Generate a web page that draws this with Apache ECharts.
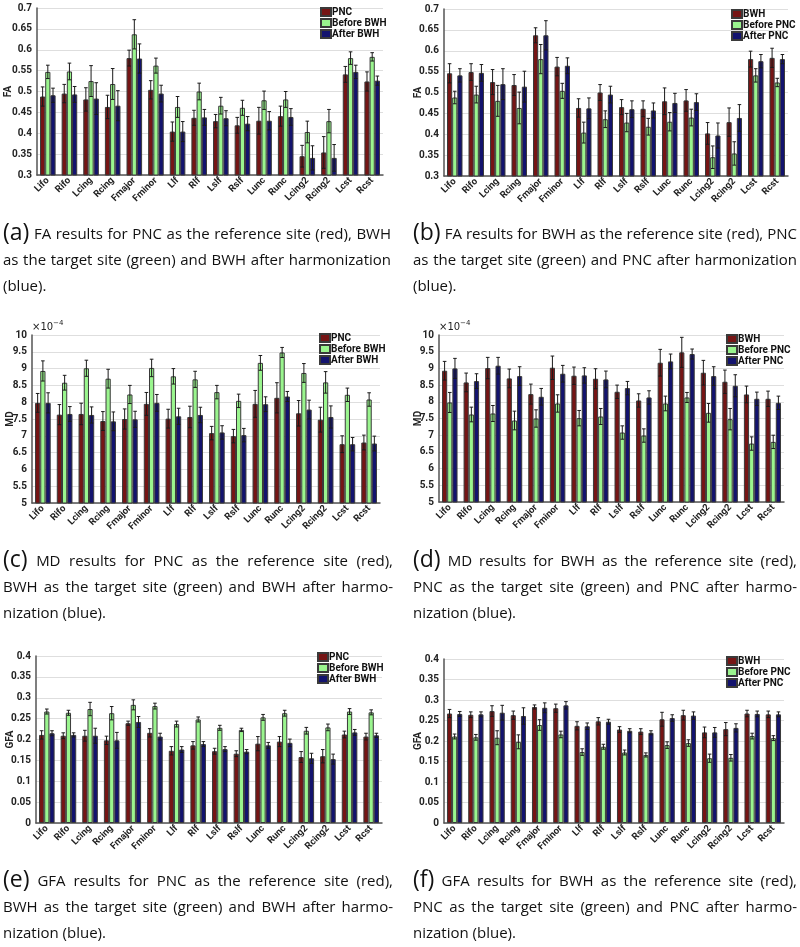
<!DOCTYPE html>
<html>
<head>
<meta charset="utf-8">
<script src="https://cdn.jsdelivr.net/npm/echarts@6/dist/echarts.min.js"></script>
<style>
  html, body { margin: 0; padding: 0; background: #fff; }
  #main { width: 800px; height: 947px; }
</style>
</head>
<body>
<div id="main"></div>
<script>
const tracts = ["Lifo", "Rifo", "Lcing", "Rcing", "Fmajor", "Fminor", "Llf", "Rlf",
	"Lslf", "Rslf", "Lunc", "Runc", "Lcing2", "Rcing2", "Lcst", "Rcst"];

// (a) FA, PNC reference
const faA_pnc = [0.488, 0.495, 0.481, 0.463, 0.580, 0.504, 0.404, 0.437, 0.429, 0.419, 0.430, 0.441, 0.345, 0.354, 0.541, 0.524];
const faA_pncErr = [0.023, 0.022, 0.028, 0.028, 0.019, 0.022, 0.023, 0.018, 0.016, 0.019, 0.032, 0.024, 0.026, 0.038, 0.019, 0.023];
const faA_before = [0.547, 0.548, 0.525, 0.518, 0.637, 0.562, 0.463, 0.500, 0.466, 0.461, 0.479, 0.481, 0.403, 0.429, 0.580, 0.583];
const faA_beforeErr = [0.016, 0.020, 0.037, 0.037, 0.035, 0.018, 0.025, 0.020, 0.020, 0.018, 0.022, 0.019, 0.026, 0.028, 0.015, 0.010];
const faA_after = [0.491, 0.493, 0.483, 0.466, 0.579, 0.495, 0.404, 0.438, 0.436, 0.423, 0.430, 0.439, 0.341, 0.341, 0.547, 0.526];
const faA_afterErr = [0.017, 0.019, 0.038, 0.036, 0.035, 0.020, 0.024, 0.019, 0.018, 0.017, 0.022, 0.020, 0.029, 0.032, 0.016, 0.011];

// (b) FA, BWH reference
const faB_bwh = [0.546, 0.549, 0.525, 0.518, 0.637, 0.562, 0.463, 0.500, 0.465, 0.461, 0.479, 0.481, 0.402, 0.429, 0.580, 0.583];
const faB_bwhErr = [0.023, 0.020, 0.030, 0.025, 0.018, 0.022, 0.022, 0.019, 0.018, 0.019, 0.032, 0.026, 0.026, 0.034, 0.019, 0.023];
const faB_before = [0.488, 0.495, 0.480, 0.463, 0.580, 0.504, 0.404, 0.436, 0.428, 0.418, 0.430, 0.440, 0.345, 0.354, 0.541, 0.524];
const faB_beforeErr = [0.015, 0.020, 0.037, 0.038, 0.035, 0.018, 0.025, 0.020, 0.022, 0.020, 0.022, 0.020, 0.027, 0.028, 0.016, 0.010];
const faB_after = [0.541, 0.547, 0.520, 0.514, 0.637, 0.564, 0.462, 0.495, 0.460, 0.457, 0.475, 0.477, 0.397, 0.439, 0.575, 0.580];
const faB_afterErr = [0.016, 0.020, 0.037, 0.037, 0.035, 0.019, 0.025, 0.020, 0.020, 0.018, 0.023, 0.020, 0.030, 0.032, 0.016, 0.011];

// (c) MD (x1e-4), PNC reference
const mdC_pnc = [7.98, 7.63, 7.65, 7.44, 7.50, 7.95, 7.51, 7.56, 7.08, 6.99, 7.95, 8.13, 7.67, 7.48, 6.75, 6.80];
const mdC_pncErr = [0.28, 0.30, 0.32, 0.28, 0.30, 0.34, 0.28, 0.32, 0.20, 0.20, 0.40, 0.45, 0.38, 0.37, 0.25, 0.22];
const mdC_before = [8.93, 8.58, 9.01, 8.70, 8.23, 9.02, 8.77, 8.68, 8.30, 8.04, 9.17, 9.48, 8.87, 8.59, 8.22, 8.08];
const mdC_beforeErr = [0.30, 0.22, 0.24, 0.28, 0.27, 0.26, 0.23, 0.24, 0.20, 0.20, 0.22, 0.15, 0.28, 0.32, 0.20, 0.20];
const mdC_after = [7.98, 7.65, 7.62, 7.43, 7.49, 7.98, 7.58, 7.62, 7.10, 7.02, 7.94, 8.17, 7.78, 7.56, 6.75, 6.77];
const mdC_afterErr = [0.30, 0.22, 0.24, 0.28, 0.24, 0.25, 0.24, 0.23, 0.20, 0.20, 0.22, 0.15, 0.28, 0.33, 0.20, 0.22];

// (d) MD (x1e-4), BWH reference
const mdD_bwh = [8.93, 8.58, 9.01, 8.70, 8.23, 9.02, 8.78, 8.69, 8.30, 8.04, 9.17, 9.48, 8.87, 8.60, 8.22, 8.09];
const mdD_bwhErr = [0.28, 0.28, 0.32, 0.28, 0.30, 0.35, 0.26, 0.30, 0.20, 0.20, 0.40, 0.45, 0.37, 0.35, 0.25, 0.23];
const mdD_before = [7.98, 7.62, 7.65, 7.44, 7.50, 7.95, 7.51, 7.56, 7.08, 6.99, 7.95, 8.13, 7.67, 7.48, 6.75, 6.80];
const mdD_beforeErr = [0.30, 0.22, 0.24, 0.28, 0.26, 0.26, 0.23, 0.24, 0.20, 0.20, 0.22, 0.15, 0.28, 0.32, 0.20, 0.20];
const mdD_after = [9.00, 8.62, 9.08, 8.77, 8.15, 8.84, 8.79, 8.67, 8.41, 8.13, 9.21, 9.43, 8.77, 8.48, 8.09, 7.97];
const mdD_afterErr = [0.30, 0.22, 0.25, 0.28, 0.25, 0.25, 0.23, 0.25, 0.20, 0.20, 0.22, 0.15, 0.28, 0.33, 0.20, 0.20];

// (e) GFA, PNC reference
const gfaE_pnc = [0.211, 0.209, 0.209, 0.198, 0.239, 0.216, 0.173, 0.186, 0.172, 0.166, 0.190, 0.195, 0.158, 0.160, 0.212, 0.207];
const gfaE_pncErr = [0.010, 0.007, 0.013, 0.010, 0.005, 0.010, 0.010, 0.009, 0.007, 0.007, 0.017, 0.012, 0.013, 0.016, 0.008, 0.008];
const gfaE_before = [0.267, 0.264, 0.273, 0.263, 0.283, 0.280, 0.237, 0.248, 0.228, 0.223, 0.253, 0.263, 0.221, 0.229, 0.267, 0.265];
const gfaE_beforeErr = [0.006, 0.006, 0.016, 0.016, 0.012, 0.007, 0.007, 0.006, 0.006, 0.004, 0.007, 0.007, 0.008, 0.008, 0.007, 0.006];
const gfaE_after = [0.215, 0.211, 0.209, 0.198, 0.242, 0.207, 0.176, 0.189, 0.177, 0.171, 0.186, 0.192, 0.155, 0.153, 0.217, 0.210];
const gfaE_afterErr = [0.006, 0.005, 0.018, 0.019, 0.013, 0.008, 0.007, 0.006, 0.006, 0.005, 0.007, 0.009, 0.012, 0.012, 0.007, 0.005];

// (f) GFA, BWH reference
const gfaF_bwh = [0.267, 0.264, 0.273, 0.263, 0.283, 0.280, 0.237, 0.248, 0.228, 0.223, 0.253, 0.263, 0.221, 0.229, 0.267, 0.265];
const gfaF_bwhErr = [0.010, 0.007, 0.013, 0.010, 0.005, 0.010, 0.010, 0.009, 0.007, 0.007, 0.017, 0.012, 0.013, 0.016, 0.008, 0.008];
const gfaF_before = [0.211, 0.209, 0.208, 0.198, 0.239, 0.216, 0.173, 0.186, 0.172, 0.166, 0.190, 0.195, 0.158, 0.159, 0.212, 0.207];
const gfaF_beforeErr = [0.006, 0.007, 0.017, 0.017, 0.013, 0.008, 0.008, 0.006, 0.006, 0.005, 0.008, 0.008, 0.010, 0.008, 0.007, 0.006];
const gfaF_after = [0.266, 0.265, 0.269, 0.261, 0.281, 0.287, 0.236, 0.247, 0.225, 0.220, 0.256, 0.262, 0.221, 0.232, 0.266, 0.265];
const gfaF_afterErr = [0.006, 0.006, 0.018, 0.020, 0.012, 0.009, 0.008, 0.006, 0.005, 0.005, 0.008, 0.009, 0.012, 0.010, 0.007, 0.006];

const colors = ["#761515", "#9af58e", "#13136e"];
const catGap = 0.28;

const panels = [
	{ grid: { left: 37, top: 8, width: 346, height: 167 }, min: 0.3, max: 0.7, step: 0.05, axisName: "FA", nameGap: 24,
		names: ["PNC", "Before BWH", "After BWH"], vals: [faA_pnc, faA_before, faA_after], errs: [faA_pncErr, faA_beforeErr, faA_afterErr],
		legend: { left: 320, top: 7 },
		caption: ["(a)|FA results for PNC as the reference site (red), BWH", "as the target site (green) and BWH after harmonization", "(blue)."], capX: 3, capW: 388, capY: 235 },
	{ grid: { left: 444, top: 9, width: 344, height: 167 }, min: 0.3, max: 0.7, step: 0.05, axisName: "FA", nameGap: 21,
		names: ["BWH", "Before PNC", "After PNC"], vals: [faB_bwh, faB_before, faB_after], errs: [faB_bwhErr, faB_beforeErr, faB_afterErr],
		legend: { left: 731, top: 9 },
		caption: ["(b)|FA results for BWH as the reference site (red), PNC", "as the target site (green) and PNC after harmonization", "(blue)."], capX: 413, capW: 384, capY: 235 },
	{ grid: { left: 32, top: 335, width: 348, height: 168 }, min: 5, max: 10, step: 0.5, axisName: "MD", nameGap: 17, exp: true,
		names: ["PNC", "Before BWH", "After BWH"], vals: [mdC_pnc, mdC_before, mdC_after], errs: [mdC_pncErr, mdC_beforeErr, mdC_afterErr],
		legend: { left: 319, top: 333 },
		caption: ["(c)|MD results for PNC as the reference site (red),", "BWH as the target site (green) and BWH after harmo-", "nization (blue)."], capX: 3, capW: 390, capY: 562 },
	{ grid: { left: 439, top: 335, width: 345, height: 167 }, min: 5, max: 10, step: 0.5, axisName: "MD", nameGap: 16, exp: true,
		names: ["BWH", "Before PNC", "After PNC"], vals: [mdD_bwh, mdD_before, mdD_after], errs: [mdD_bwhErr, mdD_beforeErr, mdD_afterErr],
		legend: { left: 726, top: 334 },
		caption: ["(d)|MD results for BWH as the reference site (red),", "PNC as the target site (green) and PNC after harmo-", "nization (blue)."], capX: 413, capW: 384, capY: 562 },
	{ grid: { left: 36, top: 656, width: 346, height: 167 }, min: 0, max: 0.4, step: 0.05, axisName: "GFA", nameGap: 21,
		names: ["PNC", "Before BWH", "After BWH"], vals: [gfaE_pnc, gfaE_before, gfaE_after], errs: [gfaE_pncErr, gfaE_beforeErr, gfaE_afterErr],
		legend: { left: 317, top: 652 },
		caption: ["(e)|GFA results for PNC as the reference site (red),", "BWH as the target site (green) and BWH after harmo-", "nization (blue)."], capX: 3, capW: 390, capY: 882 },
	{ grid: { left: 444, top: 659, width: 340, height: 164 }, min: 0, max: 0.4, step: 0.05, axisName: "GFA", nameGap: 21,
		names: ["BWH", "Before PNC", "After PNC"], vals: [gfaF_bwh, gfaF_before, gfaF_after], errs: [gfaF_bwhErr, gfaF_beforeErr, gfaF_afterErr],
		legend: { left: 726, top: 656 },
		caption: ["(f)|GFA results for BWH as the reference site (red),", "PNC as the target site (green) and PNC after harmo-", "nization (blue)."], capX: 413, capW: 384, capY: 882 },
];

// error bar drawing, offset to sit on the grouped bar
function errorBar(idx) {
	return function (params, api) {
		const k = api.value(0), v = api.value(1), e = api.value(2);
		const band = api.size([1, 0])[0];
		const bw = band * (1 - catGap) / 3;
		const top = api.coord([k, v + e]);
		const bot = api.coord([k, v - e]);
		const cx = top[0] + (idx - 1) * bw;
		const cap = 1.8;
		const style = { stroke: "#1a1a1a", lineWidth: 1 };
		return {
			type: "group",
			children: [
				{ type: "line", shape: { x1: cx, y1: top[1], x2: cx, y2: bot[1] }, style: style },
				{ type: "line", shape: { x1: cx - cap, y1: top[1], x2: cx + cap, y2: top[1] }, style: style },
				{ type: "line", shape: { x1: cx - cap, y1: bot[1], x2: cx + cap, y2: bot[1] }, style: style },
			],
		};
	};
}

// justified caption lines
const capFont = "'Open Sans'";
const capSize = 15;
const bigSize = 23;
const measure = document.createElement("canvas").getContext("2d");
function textW(s, size) {
	measure.font = size + "px " + capFont;
	return measure.measureText(s).width;
}

function captionGraphics(p) {
	const out = [];
	p.caption.forEach(function (line, li) {
		const y = p.capY + li * 25.8;
		let words = [];
		let parts = line.split("|");
		if (parts.length > 1) {
			words.push({ t: parts[0], size: bigSize });
			parts = parts[1];
		} else {
			parts = parts[0];
		}
		parts.split(" ").forEach(function (w) { words.push({ t: w, size: capSize }); });
		const total = words.reduce(function (s, w) { return s + textW(w.t, w.size); }, 0);
		const last = li === p.caption.length - 1;
		const space = textW(" ", capSize);
		let gap = last ? space : (p.capW - total) / (words.length - 1);
		if (gap < space * 0.7) gap = space * 0.7;
		let x = p.capX;
		words.forEach(function (w) {
			out.push({
				type: "text",
				x: x,
				y: w.size === bigSize ? y - 2 : y,
				style: { text: w.t, font: w.size + "px " + capFont, fill: "#111", textVerticalAlign: "middle" },
			});
			x += textW(w.t, w.size) + gap;
		});
	});
	return out;
}

function buildChart() {
	let dom = document.getElementById("main");
	let myChart = echarts.init(dom, null, { renderer: "canvas" });

	let grids = [], xAxes = [], yAxes = [], legends = [], series = [], graphics = [];

	panels.forEach(function (p, pi) {
		grids.push(Object.assign({ containLabel: false }, p.grid));
		xAxes.push({
			type: "category",
			gridIndex: pi,
			data: tracts,
			axisLine: { lineStyle: { color: "#555", width: 1.5 } },
			axisTick: { show: false },
			axisLabel: { interval: 0, rotate: 45, fontSize: 9.5, fontWeight: "bold", color: "#222", margin: 4, fontFamily: "Roboto" },
		});
		yAxes.push({
			type: "value",
			gridIndex: pi,
			min: p.min,
			max: p.max,
			interval: p.step,
			name: p.axisName,
			nameLocation: "middle",
			nameGap: p.nameGap,
			nameMoveOverlap: false,
			nameTextStyle: { fontSize: 10, fontWeight: "bold", color: "#222", fontFamily: "Roboto" },
			axisLine: { show: true, lineStyle: { color: "#555", width: 1.5 } },
			axisTick: { show: false },
			axisLabel: { fontSize: 10, fontWeight: "bold", color: "#222", margin: 5, fontFamily: "Roboto" },
			splitLine: { lineStyle: { color: "#dedede", width: 1 } },
		});
		legends.push({
			data: p.names,
			orient: "vertical",
			left: p.legend.left,
			top: p.legend.top,
			icon: "rect",
			itemWidth: 10,
			itemHeight: 8,
			itemGap: 1,
			padding: 0,
			selectedMode: false,
			textStyle: { fontSize: 10, fontWeight: "bold", color: "#111", fontFamily: "Roboto", padding: [0, 0, 0, -4] },
		});
		p.names.forEach(function (name, i) {
			series.push({
				type: "bar",
				name: name,
				xAxisIndex: pi,
				yAxisIndex: pi,
				data: p.vals[i],
				barGap: "0%",
				barCategoryGap: catGap * 100 + "%",
				itemStyle: { color: colors[i], borderColor: "#3a3a3a", borderWidth: 1 },
				animation: false,
			});
		});
		p.names.forEach(function (name, i) {
			series.push({
				type: "custom",
				xAxisIndex: pi,
				yAxisIndex: pi,
				renderItem: errorBar(i),
				data: tracts.map(function (t, k) { return [k, p.vals[i][k], p.errs[i][k]]; }),
				z: 10,
				silent: true,
				animation: false,
			});
		});
		if (p.exp) {
			graphics.push({
				type: "text",
				x: p.grid.left,
				y: p.grid.top - 9,
				style: {
					text: "{a|×10}{b|−4}",
					rich: {
						a: { fontSize: 10, fontFamily: "DejaVu Sans", fill: "#222", verticalAlign: "bottom" },
						b: { fontSize: 7, fontFamily: "DejaVu Sans", fill: "#222", verticalAlign: "top", padding: [0, 0, 6, 0] },
					},
					textVerticalAlign: "middle",
				},
			});
		}
		graphics = graphics.concat(captionGraphics(p));
	});

	let option = {
		backgroundColor: "#fff",
		animation: false,
		grid: grids,
		xAxis: xAxes,
		yAxis: yAxes,
		legend: legends,
		series: series,
		graphic: graphics,
	};

	myChart.setOption(option);
	window.addEventListener("resize", myChart.resize);
}

(function init() {
	buildChart();
})();
</script>
</body>
</html>
